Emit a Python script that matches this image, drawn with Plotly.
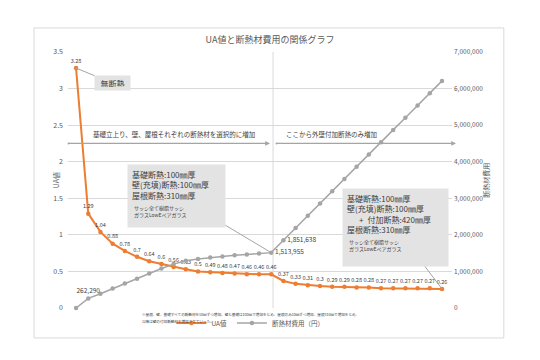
import plotly.graph_objects as go

# ---- data ----
steps = list(range(31))
ua_values = [3.28, 1.29, 1.04, 0.88, 0.78, 0.7, 0.64, 0.6, 0.56, 0.53, 0.5, 0.49, 0.48, 0.47,
             0.46, 0.46, 0.46, 0.37, 0.33, 0.31, 0.3, 0.29, 0.29, 0.28, 0.28, 0.27, 0.27,
             0.27, 0.27, 0.27, 0.26]
cost_values = [0, 262290, 390000, 530000, 670000, 800000, 940000, 1080000, 1200000, 1290000,
               1340000, 1380000, 1410000, 1440000, 1460000, 1490000, 1513955, 1851638,
               2190000, 2520000, 2860000, 3190000, 3530000, 3860000, 4200000, 4530000,
               4870000, 5200000, 5540000, 5870000, 6210000]
cost_labeled = {1: "top center", 16: "middle right", 17: "middle right"}

left_ticks = [0, 0.5, 1, 1.5, 2, 2.5, 3, 3.5]
right_ticks = [0, 1000000, 2000000, 3000000, 4000000, 5000000, 6000000, 7000000]

title_text = "UA値と断熱材費用の関係グラフ"
name_ua = "UA値"
name_cost = "断熱材費用（円）"
box1_text = "基礎断熱:100㎜厚<br>壁(充填)断熱:100㎜厚<br>屋根断熱:310㎜厚"
box2_text = "基礎断熱:100㎜厚<br>壁(充填)断熱:100㎜厚<br>\u3000\u2002+\u2002付加断熱:420㎜厚<br>屋根断熱:310㎜厚"
small_text = "サッシ全て樹脂サッシ<br>ガラスLowEペアガラス"
arrow1_text = "基礎立上り、壁、屋根それぞれの断熱材を選択的に増加"
arrow2_text = "ここから外壁付加断熱のみ増加"
footnote_line1 = "※屋根、壁、基礎すべての断熱材を10㎜ずつ増加。壁と基礎は100㎜で増加をとめ、屋根のみ10㎜ずつ増加、屋根310㎜で増加をとめ、"
footnote_line2 = "以降は壁の付加断熱材を増加させていった。"

# ---- style ----
FONT = "Noto Sans CJK JP, Noto Sans, sans-serif"
ORANGE = "#ED7D31"
GRAY = "#A5A5A5"
TXT = "#595959"
DARK = "#404040"
GRID = "#D9D9D9"
BOXBG = "#E3E3E3"

ua_labels = [f"{v:g}" for v in ua_values]
cost_labels = [f"{cost_values[i]:,}" if i in cost_labeled else "" for i in steps]
cost_pos = [cost_labeled.get(i, "top center") for i in steps]

fig = go.Figure()
fig.add_trace(go.Scatter(
    x=steps, y=ua_values, name=name_ua, mode="lines+markers+text",
    text=ua_labels, textposition="top center",
    textfont=dict(size=5.5, color=DARK, family=FONT),
    line=dict(color=ORANGE, width=2), marker=dict(color=ORANGE, size=4.5),
    cliponaxis=False,
))
fig.add_trace(go.Scatter(
    x=steps, y=cost_values, name=name_cost, mode="lines+markers+text", yaxis="y2",
    text=cost_labels, textposition=cost_pos,
    textfont=dict(size=6.5, color=DARK, family=FONT),
    line=dict(color=GRAY, width=1.5), marker=dict(color=GRAY, size=4.5),
    cliponaxis=False,
))

annotations = [
    dict(text="無断熱", x=steps[0], y=ua_values[0], xref="x", yref="y",
         ax=36.5, ay=15, showarrow=True, arrowhead=0, arrowwidth=1, arrowcolor=GRAY,
         bgcolor=BOXBG, borderpad=3, width=29, height=8,
         font=dict(size=8, color=DARK, family=FONT)),
    dict(text=box1_text, x=steps[16], y=cost_values[16], xref="x", yref="y2",
         ax=-94.7, ay=-56.6, showarrow=True, arrowhead=0, arrowwidth=1, arrowcolor=GRAY,
         bgcolor=BOXBG, borderpad=4, width=89, height=54, align="left", valign="top",
         font=dict(size=8, color=DARK, family=FONT)),
    dict(text=small_text, x=steps[16], y=cost_values[16], xref="x", yref="y2",
         xshift=-139, yshift=41, xanchor="left", yanchor="middle", showarrow=False, align="left",
         font=dict(size=5, color=DARK, family=FONT)),
    dict(text=box2_text, x=steps[30], y=ua_values[30], xref="x", yref="y",
         ax=-46.5, ay=-61.5, showarrow=True, arrowhead=0, arrowwidth=1, arrowcolor=GRAY,
         bgcolor=BOXBG, borderpad=4, width=97, height=69, align="left", valign="top",
         font=dict(size=8, color=DARK, family=FONT)),
    dict(text=small_text, x=steps[30], y=ua_values[30], xref="x", yref="y",
         xshift=-95, yshift=43.5, xanchor="left", yanchor="middle", showarrow=False, align="left",
         font=dict(size=5, color=DARK, family=FONT)),
    # arrows
    dict(text="", x=15.9, y=2.25, ax=-0.74, ay=2.25, xref="x", yref="y", axref="x", ayref="y",
         showarrow=True, arrowhead=2, arrowsize=0.8, arrowwidth=1.2, arrowcolor=GRAY,
         arrowside="end+start", startarrowhead=6, startarrowsize=0.4),
    dict(text="", x=31.15, y=2.25, ax=16.31, ay=2.25, xref="x", yref="y", axref="x", ayref="y",
         showarrow=True, arrowhead=2, arrowsize=0.8, arrowwidth=1.2, arrowcolor=GRAY,
         arrowside="end+start", startarrowhead=6, startarrowsize=0.4),
    dict(text=arrow1_text, x=7.99, y=2.25, xref="x", yref="y", yshift=9, showarrow=False,
         font=dict(size=6.5, color=DARK, family=FONT)),
    dict(text=arrow2_text, x=17.05, y=2.25, xref="x", yref="y", yshift=9, xanchor="left",
         showarrow=False, font=dict(size=6.5, color=DARK, family=FONT)),
    # axis titles
    dict(text="UA値", x=-0.049, y=0.5, xref="paper", yref="paper", textangle=-90,
         showarrow=False, font=dict(size=7, color=TXT, family=FONT)),
    dict(text="断熱材費用", x=1.106, y=0.5, xref="paper", yref="paper", textangle=-90,
         showarrow=False, font=dict(size=7, color=TXT, family=FONT)),
    # footnote
    dict(text=footnote_line1, x=0.1875, y=-0.027, xref="paper", yref="paper", xanchor="left",
         yanchor="middle", align="left", showarrow=False,
         font=dict(size=3.6, color=DARK, family=FONT)),
    dict(text=footnote_line2, x=0.1875, y=-0.051, xref="paper", yref="paper", xanchor="left",
         yanchor="middle", align="left", showarrow=False,
         font=dict(size=3.6, color=DARK, family=FONT)),
]

shapes = [
    dict(type="line", xref="x", yref="paper", x0=16.15, x1=16.15, y0=0, y1=1,
         line=dict(color=GRID, width=1), layer="below"),
    dict(type="rect", xref="paper", yref="paper", x0=-0.0885, x1=1.135, y0=-0.117, y1=1.094,
         line=dict(color=GRID, width=1)),
]

fig.update_layout(
    width=540, height=360,
    margin=dict(l=68, r=88, t=52, b=52),
    paper_bgcolor="white", plot_bgcolor="white",
    font=dict(family=FONT, color=TXT),
    title=dict(text=title_text, x=0.5, xanchor="center", y=1 - 40 / 360, yanchor="middle",
               font=dict(size=9, color=TXT, family=FONT)),
    xaxis=dict(range=[-0.66, 30.82], showticklabels=False, showgrid=False, zeroline=False,
               showline=False, ticks=""),
    yaxis=dict(range=[0, 3.5], tickvals=left_ticks, showgrid=True, gridcolor=GRID, gridwidth=0.8,
               zeroline=False, showline=False, ticks="", ticklabelstandoff=4,
               tickfont=dict(size=7, color=TXT, family=FONT)),
    yaxis2=dict(range=[0, 7000000], tickvals=right_ticks, tickformat=",d", overlaying="y",
                side="right", showgrid=False, zeroline=False, showline=False, ticks="",
                ticklabelstandoff=1, tickfont=dict(size=6.5, color=TXT, family=FONT)),
    legend=dict(orientation="h", x=0.475, xanchor="center", y=-0.059, yanchor="middle",
                font=dict(size=6.5, color=TXT, family=FONT), itemwidth=30,
                bgcolor="rgba(0,0,0,0)"),
    annotations=annotations,
    shapes=shapes,
)

fig.write_html("out.html", config={"displayModeBar": False},
               post_script="document.body.style.margin='0';document.body.style.overflow='hidden';")
